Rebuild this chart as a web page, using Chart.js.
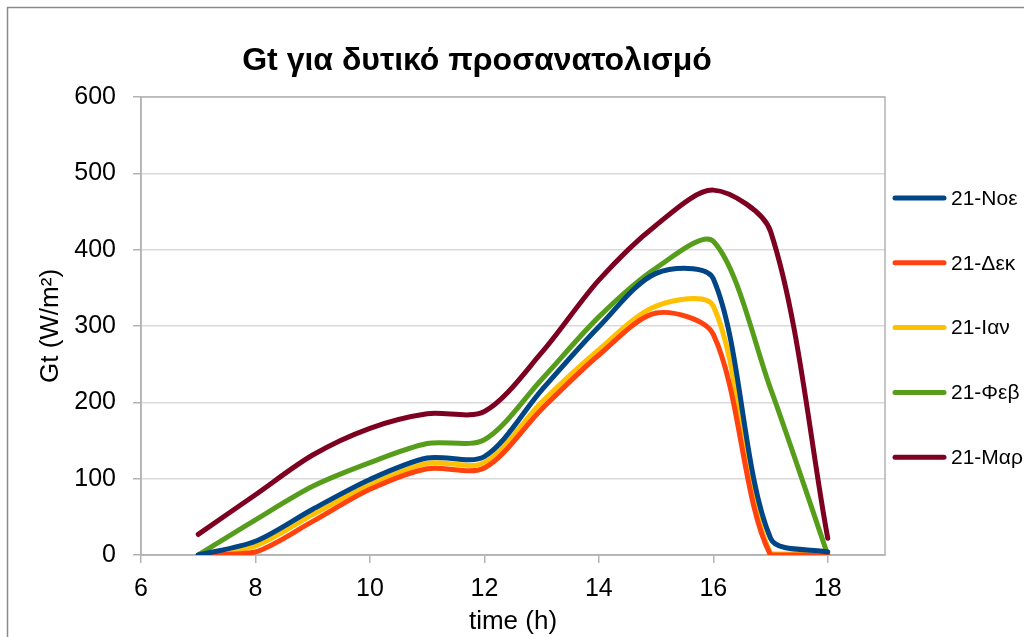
<!DOCTYPE html>
<html>
<head>
<meta charset="utf-8">
<script src="https://cdn.jsdelivr.net/npm/chart.js@4.4.1/dist/chart.umd.min.js"></script>
<style>
  html, body { margin: 0; padding: 0; background: #ffffff; }
  #wrap { width: 1024px; height: 637px; position: relative; }
</style>
</head>
<body>
<div id="wrap"><canvas id="c" width="1024" height="637"></canvas></div>
<script>
// Hours of the day (h)
const hours = [7, 8, 9, 10, 11, 12, 13, 14, 15, 16, 17, 18];

// Total irradiance Gt (W/m²) on a west-facing surface, 21st of each month
const gtNov = [0, 18, 60, 99, 127, 129, 216, 299, 369, 362, 22, 4];
const gtDec = [0, 4, 44, 86, 113, 114, 191, 262, 317, 289, 0, 0];
const gtJan = [0, 12, 53, 92, 120, 121, 200, 269, 326, 326, 2, 2];
const gtFeb = [0, 46, 90, 121, 146, 151, 230, 312, 376, 411, 218, 0];
const gtMar = [27, 79, 131, 166, 185, 188, 265, 360, 432, 478, 424, 22];

const seriesNames = ['21-Νοε', '21-Δεκ', '21-Ιαν', '21-Φεβ', '21-Μαρ'];
const seriesColors = ['#004586', '#ff420e', '#ffc000', '#579d1c', '#7e0021'];

// Axis tick labels
const xTickValues = [6, 8, 10, 12, 14, 16, 18];
const yTickValues = [0, 100, 200, 300, 400, 500, 600];

const chartTitle = 'Gt για δυτικό προσανατολισμό';
const FONT = '"Liberation Sans", Arial, sans-serif';

function toPoints(values) {
  return hours.map((h, i) => ({ x: h, y: values[i] }));
}

const allSeries = [gtNov, gtDec, gtJan, gtFeb, gtMar];

const datasets = allSeries.map((vals, i) => ({
  label: seriesNames[i],
  data: toPoints(vals),
  borderColor: seriesColors[i],
  backgroundColor: seriesColors[i],
  borderWidth: 5,
  borderCapStyle: 'round',
  borderJoinStyle: 'round',
  pointRadius: 0,
  pointHoverRadius: 0,
  tension: 0.3,
  fill: false
}));

// Frame, plot border, title and the legend on the right
const decorations = {
  id: 'decorations',
  beforeDraw(chart) {
    const ctx = chart.ctx;
    ctx.save();
    ctx.fillStyle = '#ffffff';
    ctx.fillRect(0, 0, chart.width, chart.height);
    ctx.strokeStyle = '#8a8a8a';
    ctx.lineWidth = 1.5;
    ctx.beginPath();
    ctx.moveTo(7.5, chart.height + 2);
    ctx.lineTo(7.5, 7.5);
    ctx.lineTo(chart.width + 2, 7.5);
    ctx.stroke();
    ctx.restore();
  },
  beforeDatasetsDraw(chart) {
    const ctx = chart.ctx;
    const a = chart.chartArea;
    ctx.save();
    ctx.strokeStyle = '#b3b3b3';
    ctx.lineWidth = 1.5;
    ctx.strokeRect(a.left, a.top, a.right - a.left, a.bottom - a.top);
    ctx.restore();
  },
  afterDraw(chart) {
    const ctx = chart.ctx;
    ctx.save();
    // title
    ctx.fillStyle = '#000000';
    ctx.font = 'bold 32px ' + FONT;
    ctx.textAlign = 'center';
    ctx.textBaseline = 'middle';
    ctx.fillText(chartTitle, 477, 61);
    // legend
    ctx.font = '21px ' + FONT;
    ctx.textAlign = 'left';
    chart.data.datasets.forEach((ds, i) => {
      const y = 198 + i * 64.8;
      ctx.strokeStyle = ds.borderColor;
      ctx.lineWidth = 5;
      ctx.lineCap = 'round';
      ctx.beginPath();
      ctx.moveTo(895, y);
      ctx.lineTo(944, y);
      ctx.stroke();
      ctx.fillStyle = '#000000';
      ctx.fillText(ds.label, 951, y + 1);
    });
    ctx.restore();
  }
};

new Chart(document.getElementById('c'), {
  type: 'line',
  data: { datasets },
  plugins: [decorations],
  options: {
    responsive: false,
    animation: false,
    devicePixelRatio: 1,
    layout: { padding: { left: 0, right: 139, top: 97, bottom: 0 } },
    plugins: {
      legend: { display: false },
      title: { display: false },
      tooltip: { enabled: false }
    },
    scales: {
      x: {
        type: 'linear',
        min: 6,
        max: 19,
        afterBuildTicks(scale) {
          scale.ticks = xTickValues.map(v => ({ value: v }));
        },
        afterFit(scale) { scale.height = 82; },
        ticks: {
          color: '#000000',
          font: { family: FONT, size: 25 },
          padding: 11,
          maxRotation: 0,
          autoSkip: false
        },
        grid: {
          drawOnChartArea: false,
          drawTicks: true,
          tickLength: 8,
          tickColor: '#b3b3b3',
          lineWidth: 1.5
        },
        border: { display: true, color: '#b3b3b3', width: 1.5 },
        title: {
          display: true,
          text: 'time (h)',
          color: '#000000',
          font: { family: FONT, size: 26 },
          padding: { top: 0, bottom: 0 }
        }
      },
      y: {
        type: 'linear',
        min: 0,
        max: 600,
        afterBuildTicks(scale) {
          scale.ticks = yTickValues.map(v => ({ value: v }));
        },
        afterFit(scale) { scale.width = 141; },
        ticks: {
          color: '#000000',
          font: { family: FONT, size: 25 },
          padding: 17
        },
        grid: {
          color: '#d9d9d9',
          lineWidth: 1.5,
          drawTicks: true,
          tickLength: 8,
          tickColor: '#b3b3b3'
        },
        border: { display: true, color: '#b3b3b3', width: 1.5 },
        title: {
          display: true,
          text: 'Gt (W/m²)',
          color: '#000000',
          font: { family: FONT, size: 26 },
          padding: { top: 35, bottom: 0 }
        }
      }
    }
  }
});
</script>
</body>
</html>
